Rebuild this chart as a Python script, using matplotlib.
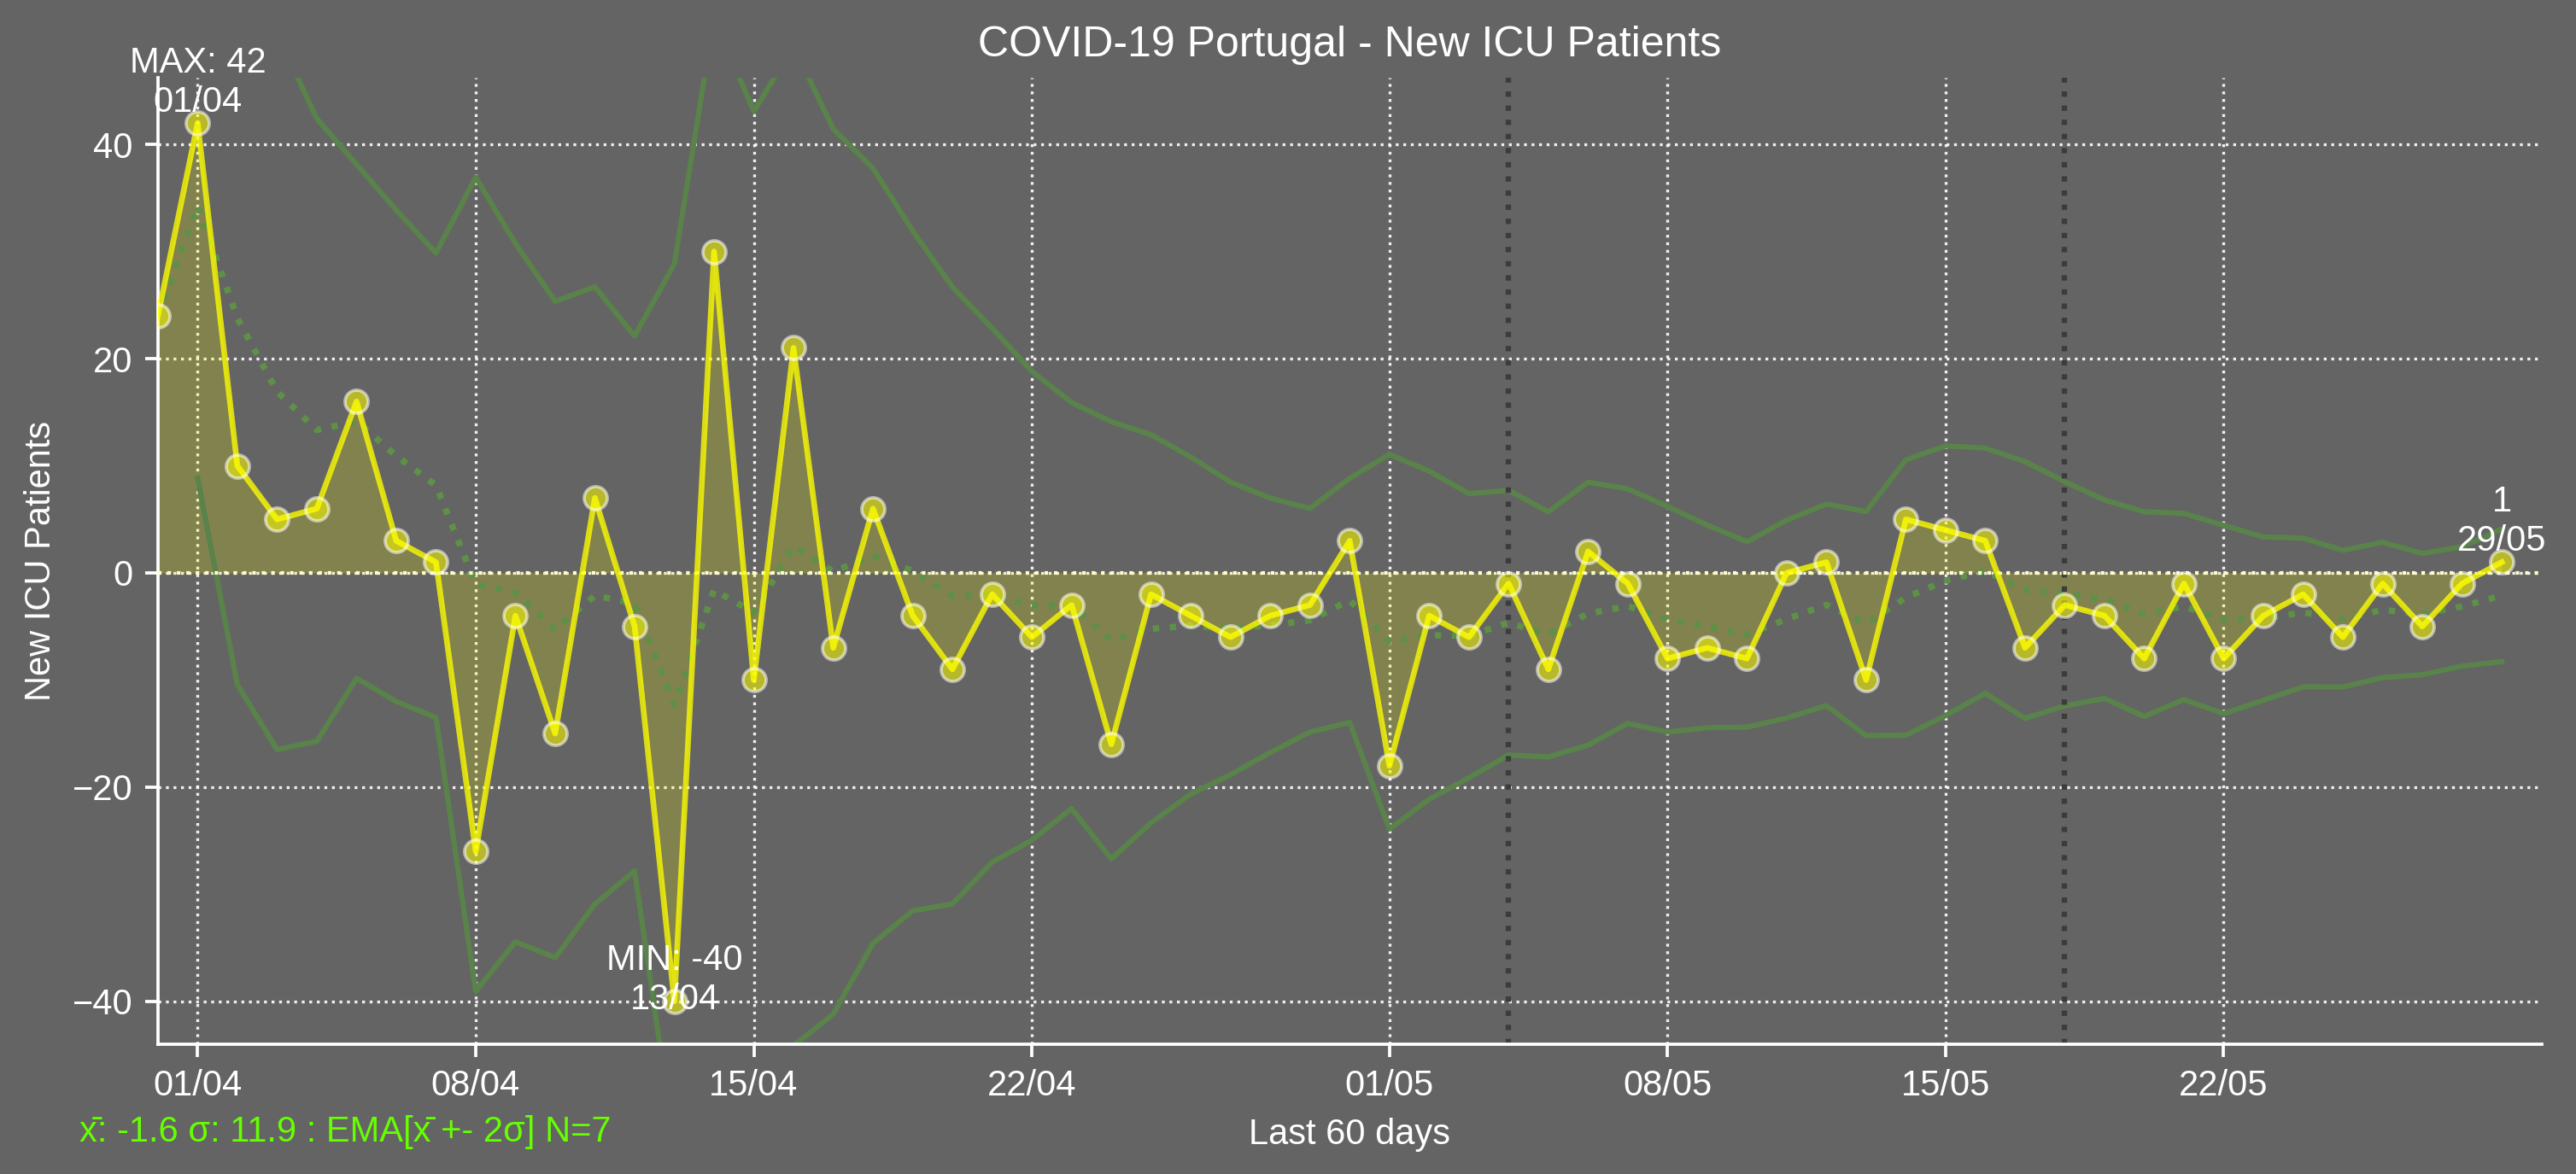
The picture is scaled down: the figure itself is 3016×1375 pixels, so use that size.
import numpy as np
import pandas as pd
import matplotlib
matplotlib.use("Agg")
import matplotlib.pyplot as plt
import matplotlib.dates as mdates

plt.rcParams['font.family'] = ['Liberation Sans', 'DejaVu Sans']

# ---- data ----
start_date = "2020-03-31"
n_days = 60
new_icu = [24, 42, 10, 5, 6, 16, 3, 1, -26, -4, -15, 7, -5, -40, 30, -10, 21, -7, 6, -4,
           -9, -2, -6, -3, -16, -2, -4, -6, -4, -3, 3, -18, -4, -6, -1, -9, 2, -1, -8, -7,
           -8, 0, 1, -10, 5, 4, 3, -7, -3, -4, -8, -1, -8, -4, -2, -6, -1, -5, -1, 1]
ema_mid = [24.00, 34.29, 23.78, 16.91, 13.34, 14.15, 10.93, 8.17, -1.06, -1.84,
           -5.28, -2.11, -2.85, -12.30, -1.59, -3.71, 2.51, 0.12, 1.60, 0.19,
           -2.11, -2.08, -3.06, -3.05, -6.29, -5.22, -4.91, -5.18, -4.89, -4.42,
           -2.56, -6.42, -5.82, -5.86, -4.65, -5.73, -3.80, -3.10, -4.33, -4.99,
           -5.75, -4.31, -2.98, -4.74, -2.30, -0.73, 0.20, -1.60, -1.95, -2.46,
           -3.85, -3.13, -4.35, -4.26, -3.70, -4.27, -3.45, -3.84, -3.13, -2.10]
ema_upper = [np.nan, 59.74, 57.99, 50.32, 42.40, 38.13, 33.86, 29.85, 36.94, 30.74,
             25.36, 26.70, 22.11, 28.84, 51.79, 43.09, 49.15, 41.44, 37.77, 31.93,
             26.68, 22.84, 18.82, 15.90, 14.11, 12.90, 10.82, 8.47, 6.99, 6.02,
             8.83, 11.07, 9.50, 7.40, 7.71, 5.71, 8.47, 7.85, 6.20, 4.46,
             2.91, 4.92, 6.43, 5.73, 10.55, 11.86, 11.65, 10.39, 8.52, 6.80,
             5.71, 5.55, 4.44, 3.36, 3.24, 2.11, 2.86, 1.82, 2.44, 4.09]
ema_lower = [np.nan, 8.83, -10.43, -16.49, -15.72, -9.84, -12.00, -13.51, -39.07, -34.43,
             -35.91, -30.91, -27.81, -53.45, -54.96, -50.51, -44.13, -41.19, -34.57, -31.54,
             -30.90, -27.00, -24.95, -22.00, -26.69, -23.33, -20.64, -18.84, -16.77, -14.85,
             -13.96, -23.91, -21.13, -19.13, -17.00, -17.18, -16.08, -14.05, -14.86, -14.45,
             -14.40, -13.54, -12.39, -15.20, -15.15, -13.32, -11.24, -13.58, -12.41, -11.72,
             -13.40, -11.82, -13.14, -11.89, -10.63, -10.65, -9.77, -9.50, -8.70, -8.28]
event_dates = ["2020-05-04", "2020-05-18"]
mean_txt = "-1.6"
std_txt = "11.9"
ema_n = 7

dates = pd.date_range(start_date, periods=n_days, freq="D")
vals = np.array(new_icu, dtype=float)

BG = "#636463"
YEL = "#ffff00"
GRN = "#5a824b"
GRN_DOT = "#5f9048"

fig = plt.figure(figsize=(3016 / 300, 1375 / 300), dpi=300, facecolor=BG)
ax = fig.add_axes([0.0613, 0.1105, 0.9253, 0.8231])
ax.set_facecolor(BG)

# fill between data and zero
ax.fill_between(dates, vals, 0, color=YEL, alpha=0.2, linewidth=0, zorder=1)
# EMA band
ax.plot(dates, ema_upper, color=GRN, lw=1.5, zorder=2)
ax.plot(dates, ema_lower, color=GRN, lw=1.5, zorder=2)
ax.plot(dates, ema_mid, color=GRN_DOT, lw=1.8, ls=":", zorder=2)
# zero line
ax.axhline(0, color="#ffffc8", lw=1.0, ls=":", zorder=3)
# events
for d in event_dates:
    ax.axvline(pd.Timestamp(d), color="#3c3c3c", lw=1.5, ls=":", zorder=2)
# data
ax.plot(dates, vals, color=(1, 1, 0, 0.78), lw=1.6, zorder=4)
ax.plot(dates, vals, ls="none", marker="o", ms=6.5,
        markerfacecolor=(1, 1, 0, 0.55), markeredgecolor=(1, 1, 1, 0.55),
        markeredgewidth=0.9, zorder=5)

ax.set_xlim(dates[0], dates[0] + pd.Timedelta(days=n_days))
ax.set_ylim(-44, 46.2)
ax.xaxis.set_major_locator(mdates.DayLocator(bymonthday=[1, 8, 15, 22]))
ax.xaxis.set_major_formatter(mdates.DateFormatter("%d/%m"))
ax.set_yticks([-40, -20, 0, 20, 40])

ax.grid(True, color="white", ls=":", lw=0.8, alpha=0.9, zorder=0)
ax.set_axisbelow(True)
for s in ["top", "right"]:
    ax.spines[s].set_visible(False)
for s in ["left", "bottom"]:
    ax.spines[s].set_color("white")
    ax.spines[s].set_linewidth(0.9)
ax.tick_params(colors="white", labelsize=10, length=3.5, width=0.9)

ax.set_title("COVID-19 Portugal - New ICU Patients", color="white", fontsize=12, pad=6)
ax.set_ylabel("New ICU Patients", color="white", fontsize=10)
ax.set_xlabel("Last 60 days", color="white", fontsize=10, labelpad=4)

imax = int(np.argmax(vals))
imin = int(np.argmin(vals))
ax.annotate(f"MAX: {int(vals[imax])}\n{dates[imax]:%d/%m}", (dates[imax], vals[imax]),
            xytext=(0, 1), textcoords="offset points",
            ha="center", va="bottom", color="white", fontsize=10, multialignment="center", zorder=6)
ax.annotate(f"MIN: {int(vals[imin])}\n{dates[imin]:%d/%m}", (dates[imin], vals[imin]),
            xytext=(0, -4.4), textcoords="offset points",
            ha="center", va="bottom", color="white", fontsize=10, multialignment="center", zorder=6)
ax.annotate(f"{int(vals[-1])}\n{dates[-1]:%d/%m}", (dates[-1], vals[-1]),
            xytext=(0, 1), textcoords="offset points",
            ha="center", va="bottom", color="white", fontsize=10, multialignment="center", zorder=6)

fig.text(0.031, 0.028, f"x\u0304: {mean_txt} \u03c3: {std_txt} : EMA[x\u0304 +- 2\u03c3] N={ema_n}",
         color="#66ff00", fontsize=10, ha="left", va="baseline")

fig.savefig("out.png", facecolor=BG)
